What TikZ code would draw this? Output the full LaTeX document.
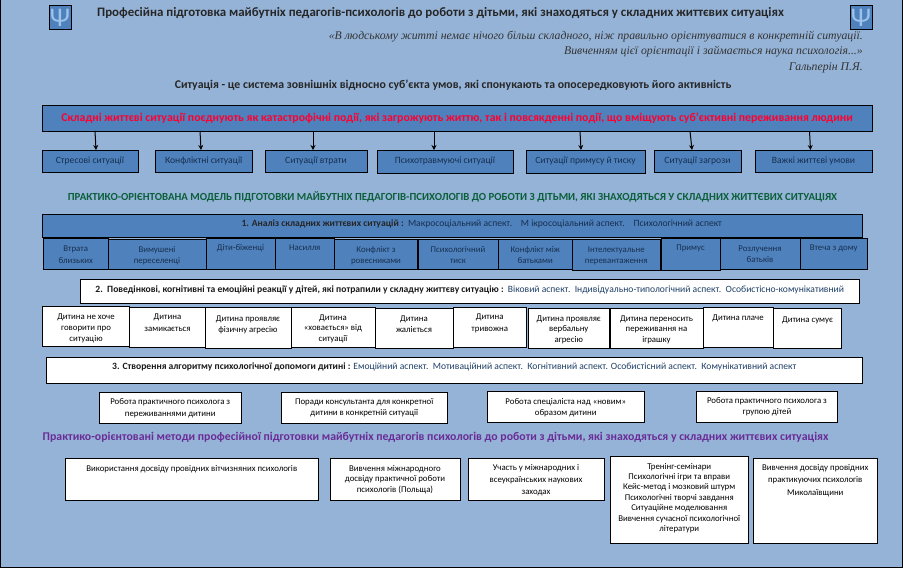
\documentclass[tikz,border=0pt]{standalone}
\usepackage{fontspec}
\setmainfont{Carlito}
\newfontfamily\qfont{Liberation Serif}
\usetikzlibrary{arrows.meta}
\definecolor{bgc}{HTML}{95B3D7}
\definecolor{boxc}{HTML}{4F81BD}
\definecolor{txtb}{HTML}{17304F}
\definecolor{redt}{HTML}{FF0030}
\definecolor{greent}{HTML}{0B5F3A}
\definecolor{purt}{HTML}{6A2C96}
\definecolor{asp}{HTML}{1F3F66}
\definecolor{psi}{HTML}{9CC3EA}
\tikzset{
 boxn/.style={draw=black,line width=1pt,inner sep=0pt,outer sep=0pt,anchor=north west,text=txtb},
 bluebox/.style={boxn,fill=boxc},
 whitebox/.style={boxn,fill=white,text=black},
 fs/.style={font=\fontsize{9.6}{11}\selectfont},
 fss/.style={font=\fontsize{8.8}{#1}\selectfont},
 arr/.style={-{Stealth[length=5pt,width=5pt]},line width=1pt,black},
 heading/.style={inner sep=0pt,anchor=center},
 iconbox/.style={bluebox,text=psi,font=\fontsize{27}{28}\selectfont}
}
\newcommand\bx[8]{%
 \pgfmathsetmacro\bxw{#4-#2}\pgfmathsetmacro\bxh{#5-#3}%
 \node[#6,minimum width=\bxw pt,minimum height=\bxh pt] (#1) at (#2,#3)
  {\parbox[c][\bxh pt][t]{\bxw pt}{\centering\rule{0pt}{#7pt}#8}};}
\begin{document}
\begin{tikzpicture}[x=1pt,y=-1pt]
\useasboundingbox (0,0) rectangle (903,568);
\fill[bgc] (0,0) rectangle (903,568);
\draw[black,line width=1pt] (0.5,0) -- (0.5,567.5) -- (902.5,567.5) -- (902.5,0);
% icons
\bx{iconl}{49}{5}{71}{29}{iconbox}{21}{Ψ}
\bx{iconr}{850}{5}{872}{29}{iconbox}{21}{Ψ}
% headings
\node[heading,font=\bfseries\fontsize{12.9}{14}\selectfont,text=black!85] (title) at (440.5,13) {Професійна підготовка майбутніх педагогів-психологів до роботи з дітьми, які знаходяться у складних життєвих ситуаціях};
\node[heading,anchor=east,font=\qfont\itshape\fontsize{11.75}{12}\selectfont,text=black!80] (q1) at (863,37) {«В людському житті немає нічого більш складного, ніж правильно орієнтуватися в конкретній ситуації.};
\node[heading,anchor=east,font=\qfont\itshape\fontsize{11.75}{12}\selectfont,text=black!80] (q2) at (863,52) {Вивченням цієї орієнтації і займається наука психологія...»};
\node[heading,anchor=east,font=\qfont\itshape\fontsize{11.75}{12}\selectfont,text=black!80] (q3) at (863,68) {Гальперін П.Я.};
\node[heading,font=\bfseries\fontsize{11.8}{13}\selectfont,text=black!85] (def) at (453,85) {Ситуація - це система зовнішніх відносно суб’єкта умов, які спонукають та опосередковують його активність};
% main box
\bx{hd}{42}{105}{872}{131}{bluebox,text=redt,font=\bfseries\fontsize{11.8}{14}\selectfont}{16}{Складні життєві ситуації поєднують як катастрофічні події, які загрожують життю, так і повсякденні події, що вміщують суб’єктивні переживання людини}
\bx{s1}{42}{150}{138}{172}{bluebox,fs}{13}{Стресові ситуації}
\bx{s2}{155}{150}{252.5}{172}{bluebox,fs}{13}{Конфліктні ситуації}
\bx{s3}{265}{150}{367}{172}{bluebox,fs}{13}{Ситуації втрати}
\bx{s4}{377}{150}{513}{173.5}{bluebox,fs}{13}{Психотравмуючі ситуації}
\bx{s5}{526}{150}{645}{173.5}{bluebox,fs}{13}{Ситуації примусу й тиску}
\bx{s6}{654}{150}{741}{172}{bluebox,fs}{13}{Ситуації загрози}
\bx{s7}{755}{150}{872}{172}{bluebox,fs}{13}{Важкі життєві умови}
\draw[arr] ([xshift=-362pt]hd.south) -- ([xshift=6pt]s1.north);
\draw[arr] ([xshift=-257pt]hd.south) -- ([xshift=-2.75pt]s2.north);
\draw[arr] ([xshift=-144pt]hd.south) -- ([xshift=-3pt]s3.north);
\draw[arr] ([xshift=-23pt]hd.south) -- ([xshift=-11pt]s4.north);
\draw[arr] ([xshift=123pt]hd.south) -- ([xshift=-4.5pt]s5.north);
\draw[arr] ([xshift=233pt]hd.south) -- ([xshift=-5.5pt]s6.north);
\draw[arr] ([xshift=352.5pt]hd.south) -- ([xshift=-3pt]s7.north);
\node[heading,font=\bfseries\fontsize{10.8}{12}\selectfont,text=greent] (gt) at (452.5,197) {ПРАКТИКО-ОРІЄНТОВАНА МОДЕЛЬ ПІДГОТОВКИ МАЙБУТНІХ ПЕДАГОГІВ-ПСИХОЛОГІВ ДО РОБОТИ З ДІТЬМИ, ЯКІ ЗНАХОДЯТЬСЯ У СКЛАДНИХ ЖИТТЄВИХ СИТУАЦІЯХ};
% section 1
\bx{sa}{42}{214}{862.5}{237}{bluebox,fs}{12}{\hspace*{59pt}\textbf{\textcolor{black!85}{1. Аналіз складних життєвих ситуацій :}}\ \ Макросоціальний аспект.\ \ \ \ М ікросоціальний аспект.\ \ \ \ Психологічний аспект}
\bx{a1}{43.5}{238}{108}{269}{bluebox,fss=12}{13}{Втрата\\близьких}
\bx{a2}{108}{239}{206}{269}{bluebox,fss=11.5}{13}{Вимушені\\переселенці}
\bx{a3}{206}{238}{275}{269}{bluebox,fss=11}{12}{Діти-біженці}
\bx{a4}{275}{238}{334.5}{269}{bluebox,fss=11}{12}{Насилля}
\bx{a5}{334.5}{239}{417.5}{269}{bluebox,fss=11.5}{13}{Конфлікт з\\ровесниками}
\bx{a6}{418}{239}{498}{269}{bluebox,fss=11.5}{13}{Психологічний\\тиск}
\bx{a7}{498.5}{239}{572}{269}{bluebox,fss=11.5}{13}{Конфлікт між\\батьками}
\bx{a8}{572.5}{239}{660}{270}{bluebox,fss=11.5}{13}{Інтелектуальне\\перевантаження}
\bx{a9}{661}{238}{720}{270}{bluebox,fss=11}{12}{Примус}
\bx{a10}{720}{238}{800}{269}{bluebox,fss=11.5}{13}{Розлучення\\батьків}
\bx{a11}{800}{238}{867.5}{269}{bluebox,fss=11}{12}{Втеча з дому}
% section 2
\bx{sb}{80}{279}{859.5}{303.5}{whitebox,fs,text=asp}{13}{\textbf{\textcolor{black!90}{2.\ \ Поведінкові, когнітивні та емоційні реакції у дітей, які потрапили у складну життєву ситуацію :}}\ \ Віковий аспект.\ \ Індивідуально-типологічний аспект.\ \ Особистісно-комунікативний}
\bx{b1}{42.5}{306}{129.5}{346}{whitebox,fss=11}{13}{Дитина не хоче\\говорити про\\ситуацію}
\bx{b2}{129.5}{307}{205.5}{347}{whitebox,fss=12}{12}{Дитина\\замикається}
\bx{b3}{205}{307.5}{291}{348}{whitebox,fss=11}{13.5}{Дитина проявляє\\фізичну агресію}
\bx{b4}{291}{307.5}{375}{347}{whitebox,fss=10.5}{12.5}{Дитина\\«ховається» від\\ситуації}
\bx{b5}{375}{308}{453}{348}{whitebox,fss=11}{13}{Дитина\\жаліється}
\bx{b6}{453}{307}{526.5}{347}{whitebox,fss=12}{12}{Дитина\\тривожна}
\bx{b7}{528}{308}{609.5}{348}{whitebox,fss=10.5}{13}{Дитина проявляє\\вербальну\\агресію}
\bx{b8}{610}{308}{703}{348}{whitebox,fss=10.5}{13}{Дитина переносить\\переживання на\\іграшку}
\bx{b9}{703}{307.5}{773}{347}{whitebox,fss=11}{12.5}{Дитина плаче}
\bx{b10}{773.5}{308}{841.5}{348}{whitebox,fss=11}{14}{Дитина сумує}
% section 3
\bx{sc}{46}{357}{862.5}{383}{whitebox,fs,text=asp}{12}{\textbf{\textcolor{black!90}{3. Створення алгоритму психологічної допомоги дитині :}} Емоційний аспект.\ \ Мотиваційний аспект.\ \ Когнітивний аспект. Особистісний аспект.\ \ Комунікативний аспект}
\bx{c1}{99}{392}{241.5}{423.5}{whitebox,fss=11.5}{12.5}{Робота практичного психолога з\\переживаннями дитини}
\bx{c2}{281}{392}{447.5}{423.5}{whitebox,fss=11}{12}{Поради консультанта для конкретної\\дитини в конкретній ситуації}
\bx{c3}{487}{391.5}{644.5}{422.5}{whitebox,fss=11.5}{12.5}{Робота спеціаліста над «новим»\\образом дитини}
\bx{c4}{696.5}{391.5}{837.5}{422.5}{whitebox,fss=11}{11.5}{Робота практичного психолога з\\групою дітей}
\node[heading,font=\bfseries\fontsize{11.8}{13}\selectfont,text=purt] (pt) at (435.5,437) {Практико-орієнтовані методи професійної підготовки майбутніх педагогів психологів до роботи з дітьми, які знаходяться у складних життєвих ситуаціях};
% bottom
\bx{d1}{65}{458}{318.5}{500}{whitebox,fss=11}{13}{Використання досвіду провідних вітчизняних психологів}
\bx{d2}{330}{458}{460}{500}{whitebox,fss=10.5}{13}{Вивчення міжнародного\\досвіду практичної роботи\\психологів (Польща)}
\bx{d3}{468}{458}{604}{500}{whitebox,fss=12}{12}{Участь у міжнародних і\\всеукраїнських наукових\\заходах}
\bx{d4}{610}{456.5}{748.5}{543}{whitebox,fss=10.4}{12.5}{Тренінг-семінари\\Психологічні ігри та вправи\\Кейс-метод і мозковий штурм\\Психологічні творчі завдання\\Ситуаційне моделювання\\Вивчення сучасної психологічної\\літератури}
\bx{d5}{753}{458}{877.5}{543}{whitebox,fss=12.5}{12}{Вивчення досвіду провідних\\практикуючих психологів\\Миколаївщини}
\end{tikzpicture}
\end{document}
